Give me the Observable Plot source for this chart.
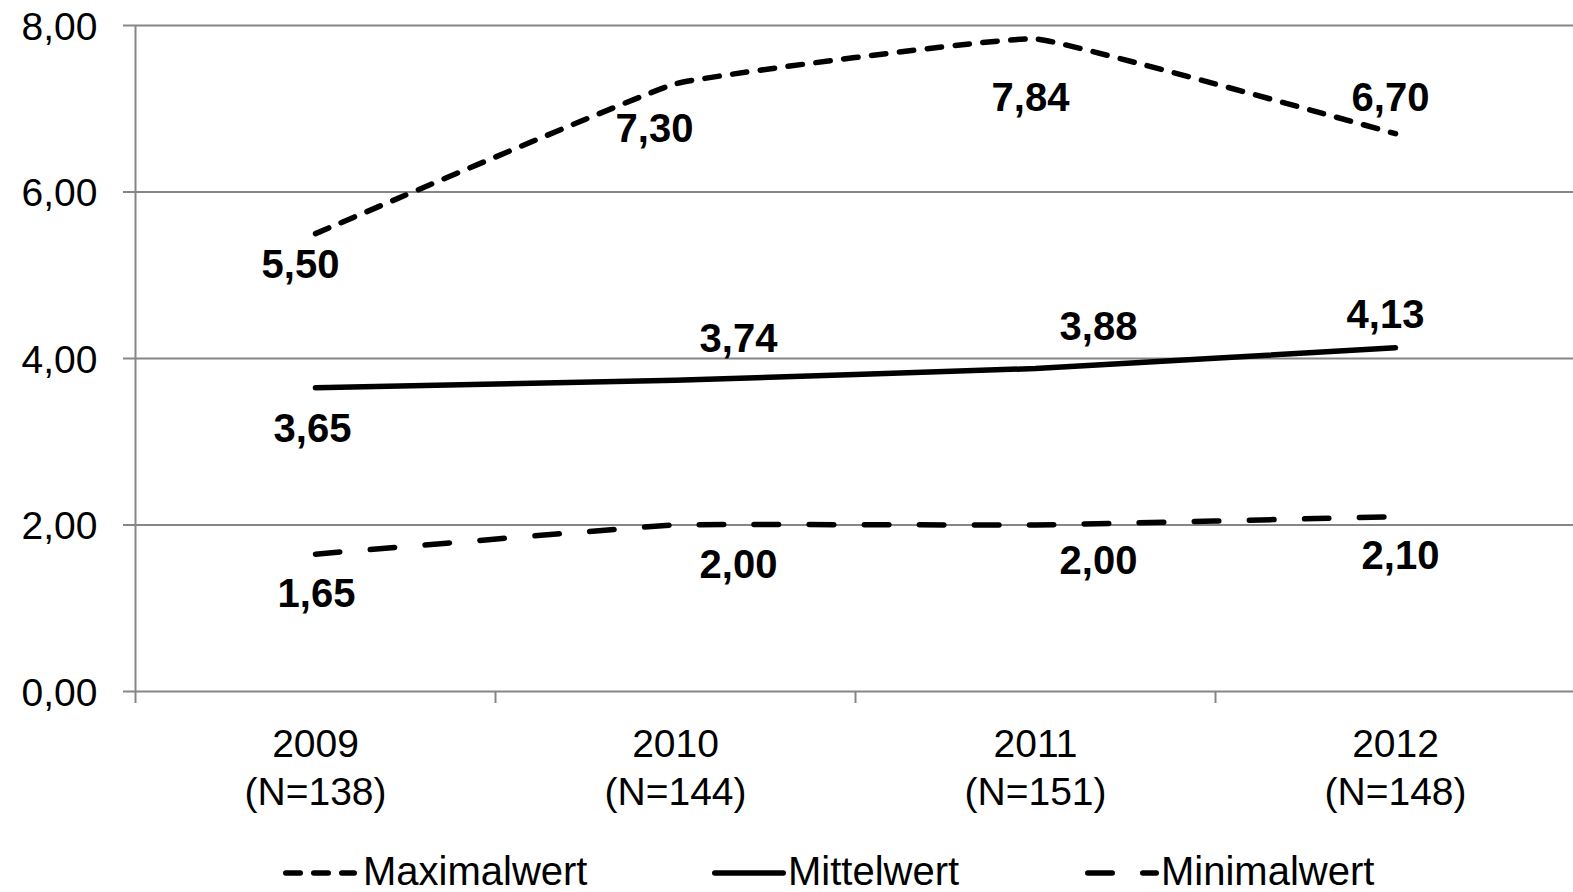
<!DOCTYPE html>
<html><head><meta charset="utf-8">
<script src="https://cdn.jsdelivr.net/npm/d3@7"></script>
<script src="https://cdn.jsdelivr.net/npm/@observablehq/plot@0.6"></script>
<style>
body{margin:0;background:#fff;font-family:"Liberation Sans",Arial,sans-serif;}
#chart{position:relative;width:1573px;height:892px;overflow:hidden;background:#fff}
#legend{position:absolute;left:0;top:835px;width:1573px;height:57px}
.item{position:absolute;top:0;height:57px;font-size:40px;line-height:1;color:#000}
.item svg{position:absolute;left:0;top:0}
.item span{position:absolute;top:16px;white-space:nowrap}
</style></head><body><div id="chart"></div>
<script>
// ---- data ----
const years = ["2009", "2010", "2011", "2012"];
const nLabels = ["(N=138)", "(N=144)", "(N=151)", "(N=148)"];
const seriesNames = ["Maximalwert", "Mittelwert", "Minimalwert"];
const maxValues = [5.50, 7.30, 7.84, 6.70];
const meanValues = [3.65, 3.74, 3.88, 4.13];
const minValues = [1.65, 2.00, 2.00, 2.10];
const yTicks = [0, 2, 4, 6, 8];

// ---- layout / style ----
const labelOffsets = {
  Maximalwert: [[-15, 32], [-21, 45], [-5, 59], [-5, -36]],
  Mittelwert: [[-3, 42], [63, -41], [63, -41], [-10, -32]],
  Minimalwert: [[1, 40], [63, 40], [63, 36], [5, 40]]
};
const dashes = {Maximalwert: "14.5,13.5", Mittelwert: null, Minimalwert: "24.5,30.5"};
const legendLeft = {Maximalwert: 283, Mittelwert: 712, Minimalwert: 1085};
const gray = "#868686";
const W = 1573, H = 835;

const valuesBySeries = {Maximalwert: maxValues, Mittelwert: meanValues, Minimalwert: minValues};
const rows = [];
for (const s of seriesNames) valuesBySeries[s].forEach((v, i) => rows.push({series: s, idx: i + 1, year: years[i], value: v}));
const fmt = v => v.toFixed(2).replace(".", ",");

const marks = [
  Plot.ruleY(yTicks, {stroke: gray, strokeWidth: 2}),
  Plot.ruleX([0.5], {y1: 0, y2: 8, stroke: gray, strokeWidth: 2}),
  Plot.axisY(yTicks, {tickSize: 12, stroke: gray, strokeWidth: 2, tickFormat: () => "", label: null}),
  Plot.axisY(yTicks, {tickSize: 0, tickPadding: 38, tickFormat: fmt, fontSize: 39, fill: "#000", label: null, dy: 2}),
  Plot.axisX([0.5, 1.5, 2.5, 3.5], {tickSize: 12, stroke: gray, strokeWidth: 2, tickFormat: () => "", label: null}),
  Plot.axisX([1, 2, 3, 4], {tickSize: 0, tickPadding: 31, fontSize: 39, lineHeight: 1.23, fill: "#000", label: null,
    tickFormat: i => `${years[i - 1]}\n${nLabels[i - 1]}`})
];
for (const s of seriesNames) {
  const data = rows.filter(d => d.series === s);
  marks.push(Plot.line(data, {x: "idx", y: "value", curve: "cardinal", tension: 0.75, stroke: "#000", strokeWidth: 5.5,
    strokeLinecap: "round", strokeLinejoin: "round", strokeDasharray: dashes[s]}));
  data.forEach((d, i) => {
    const [dx, dy] = labelOffsets[s][i];
    marks.push(Plot.text([d], {x: "idx", y: "value", text: d => fmt(d.value), dx, dy,
      fontSize: 40, fontWeight: "bold", fill: "#000"}));
  });
}

const chart = Plot.plot({
  width: W, height: H,
  marginTop: 25, marginBottom: H - 691, marginLeft: 135, marginRight: 0,
  style: {fontFamily: '"Liberation Sans", Arial, sans-serif', background: "#fff", color: "#000", overflow: "visible"},
  x: {domain: [0.5, 4.5], range: [135, 1575], axis: null, label: null},
  y: {domain: [0, 8], axis: null, label: null},
  marks
});
const root = document.getElementById("chart");
root.appendChild(chart);

// legend
const legend = document.createElement("div");
legend.id = "legend";
for (const s of seriesNames) {
  const item = document.createElement("div");
  item.className = "item";
  item.style.left = legendLeft[s] + "px";
  const ns = "http://www.w3.org/2000/svg";
  const svg = document.createElementNS(ns, "svg");
  svg.setAttribute("width", 80); svg.setAttribute("height", 57);
  const ln = document.createElementNS(ns, "line");
  ln.setAttribute("x1", 2.75); ln.setAttribute("x2", 71.25);
  ln.setAttribute("y1", 38); ln.setAttribute("y2", 38);
  ln.setAttribute("stroke", "#000"); ln.setAttribute("stroke-width", 5.5);
  ln.setAttribute("stroke-linecap", "round");
  if (dashes[s]) ln.setAttribute("stroke-dasharray", dashes[s]);
  svg.appendChild(ln);
  item.appendChild(svg);
  const sp = document.createElement("span");
  sp.style.left = (s === "Maximalwert" ? 80 : 76) + "px";
  sp.textContent = s;
  item.appendChild(sp);
  legend.appendChild(item);
}
root.appendChild(legend);
</script></body></html>
